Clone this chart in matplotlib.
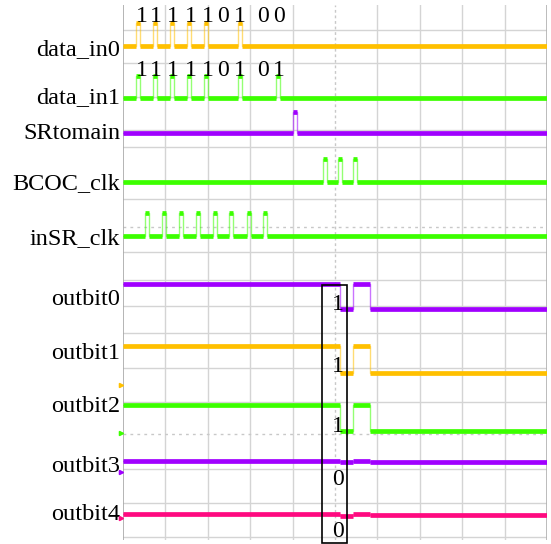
import matplotlib
matplotlib.use("Agg")
import matplotlib.pyplot as plt
from matplotlib.patches import Rectangle

# ---------------- data ----------------
PURPLE = "#a000ff"
ORANGE = "#ffc000"
GREEN = "#3cff00"
PINK = "#ff0a80"

# pulse channels: name, low level, high level (screen y units), pulse starts (divisions)
pulse_names = ["data_in0", "data_in1", "SRtomain", "BCOC_clk", "inSR_clk"]
pulse_colors = [ORANGE, GREEN, PURPLE, GREEN, GREEN]
pulse_low = [46, 98, 133, 182, 236]
pulse_high = [23, 76, 112, 159, 213]
pulse_starts = [
    [0.31, 0.71, 1.11, 1.51, 1.91, 2.71],
    [0.31, 0.71, 1.11, 1.51, 1.91, 2.71, 3.61],
    [4.01],
    [4.72, 5.07, 5.42],
    [0.52, 0.92, 1.32, 1.72, 2.12, 2.50, 2.92, 3.30],
]
pulse_width = 0.09
pulse_label_base = [55, 103, 139, 189, 244]

# bit labels above data_in rows
bits_in0 = ["1", "1", "1", "1", "1", "0", "1", "0", "0"]
bits_in1 = ["1", "1", "1", "1", "1", "0", "1", "0", "1"]
bits_x = [0.45, 0.78, 1.18, 1.60, 2.00, 2.36, 2.76, 3.30, 3.68]
bits_y = [17, 71]

# output channels: segment edges (divisions) and level per segment
out_names = ["outbit0", "outbit1", "outbit2", "outbit3", "outbit4"]
out_colors = [PURPLE, ORANGE, GREEN, PURPLE, PINK]
out_edges = [0, 5.12, 5.42, 5.83, 10]
out_levels = [
    [284, 309, 284, 309],
    [346, 373, 346, 373],
    [405, 431, 405, 431],
    [461, 462, 461, 462],
    [514, 516, 514, 515],
]
out_label_base = [305, 359, 412, 472, 520]
out_bits = ["1", "1", "1", "0", "0"]
out_bits_y = [305, 367, 427, 480, 532]
out_bits_x = 5.07

# channel reference markers on the left edge
marker_y = [385, 433, 472, 518]
marker_colors = [ORANGE, GREEN, PURPLE, PINK]

# grid
vgrid = [1, 2, 3, 4, 6, 7, 8, 9]
hgrid = [30, 63, 97, 130, 147, 199, 252, 280, 306, 333, 368, 402, 469, 503, 537]
hcenter = [227, 434]

# ---------------- figure ----------------
W, H = 551, 544
fig = plt.figure(figsize=(W / 100, H / 100), dpi=100)
x0, x1, ytop, ybot = 123, 547, 5, 540
ax = fig.add_axes([x0 / W, 1 - ybot / H, (x1 - x0) / W, (ybot - ytop) / H])
ax.set_xlim(0, 10)
ax.set_ylim(ybot, ytop)
ax.axis("off")

GRID = "#d4d4d4"
for gx in vgrid:
    ax.axvline(gx, color=GRID, lw=1, zorder=0)
for gy in hgrid:
    ax.axhline(gy, color=GRID, lw=1, zorder=0)
ax.axvline(5, color="#c8c8c8", lw=1, ls=(0, (2, 2)), zorder=0)
for gy in hcenter:
    ax.axhline(gy, color="#c8c8c8", lw=1, ls=(0, (2, 3)), zorder=0)
ax.axvline(0, color="#a8a8a8", lw=1.2, zorder=1)
ax.axvline(10, color="#b0b0b0", lw=1.2, zorder=1)

FONT = "Liberation Serif"
FS = 17.5
FSB = 17

def draw_step(edges, levels, color):
    xs, ys = [], []
    for i, lv in enumerate(levels):
        xs += [edges[i], edges[i + 1]]
        ys += [lv, lv]
    ax.plot(xs, ys, color=color, lw=1.0, alpha=0.55, zorder=2)
    for i, lv in enumerate(levels):
        ax.plot([edges[i], edges[i + 1]], [lv, lv], color=color, lw=3.4,
                solid_capstyle="butt", zorder=3)

for name, col, lo, hi, starts, base in zip(pulse_names, pulse_colors, pulse_low,
                                           pulse_high, pulse_starts, pulse_label_base):
    edges = [0]
    levels = []
    for s in starts:
        edges += [s, s + pulse_width]
        levels += [lo, hi]
    edges.append(10)
    levels.append(lo)
    draw_step(edges, levels, col)
    ax.text(-0.07, base, name, ha="right", va="baseline", fontsize=FS,
            family=FONT, clip_on=False)

for row, bits in enumerate([bits_in0, bits_in1]):
    for bx, b in zip(bits_x, bits):
        ax.text(bx, bits_y[row], b, ha="center", va="center", fontsize=FSB,
                family=FONT)

for name, col, lv, base in zip(out_names, out_colors, out_levels, out_label_base):
    draw_step(out_edges, lv, col)
    ax.text(-0.07, base, name, ha="right", va="baseline", fontsize=FS,
            family=FONT, clip_on=False)

for b, by in zip(out_bits, out_bits_y):
    ax.text(out_bits_x, by, b, ha="center", va="center", fontsize=FSB,
            family=FONT, clip_on=False, zorder=5)

box_l = (322 - x0) / 42.4
box_r = (347 - x0) / 42.4
ax.add_patch(Rectangle((box_l, 285), box_r - box_l, 543 - 285, fill=False,
                       ec="black", lw=1.2, clip_on=False, zorder=6))

for my, mc in zip(marker_y, marker_colors):
    ax.plot([-0.04], [my], marker=">", ms=3, color=mc, clip_on=False, zorder=4)

fig.savefig("out.png", dpi=100)
